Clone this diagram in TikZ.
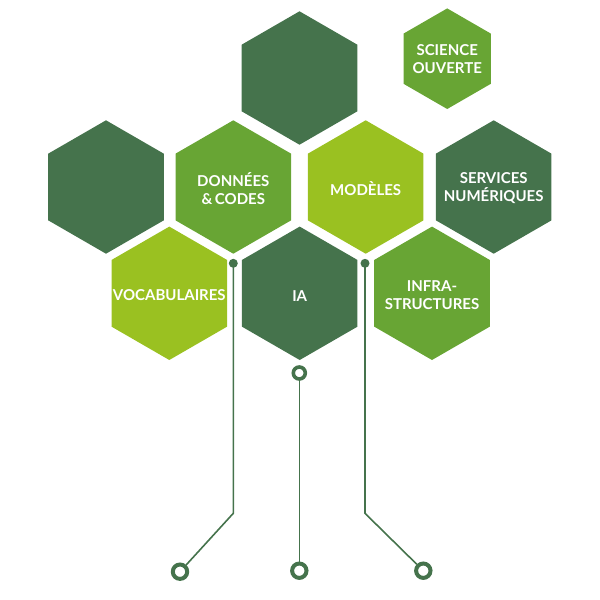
\documentclass[tikz,border=0pt]{standalone}
\usepackage{fontspec}
\setmainfont{Lato}
\usetikzlibrary{shapes.geometric}
\definecolor{dk}{RGB}{69,115,76}
\definecolor{md}{RGB}{104,165,52}
\definecolor{lm}{RGB}{154,193,33}
\begin{document}
\begin{tikzpicture}[x=1pt,y=-1pt,
  hex/.style={regular polygon, regular polygon sides=6, shape border rotate=30,
    minimum size=133.4pt, inner sep=0pt, outer sep=0pt, draw=none},
  smallhex/.style={hex, minimum size=100.6pt},
  txt/.style={text=white, align=center, font=\bfseries\fontsize{15}{18}\selectfont, inner sep=0pt},
  conn/.style={draw=dk, line width=1.6pt},
  dotnode/.style={circle, fill=dk, minimum size=9pt, inner sep=0pt, outer sep=0pt},
  ring/.style={circle, draw=dk, line width=4pt, fill=white, minimum size=14.4pt, inner sep=0pt},
  smallring/.style={ring, line width=3.6pt, minimum size=12pt}]
\useasboundingbox (0,0) rectangle (600,600);
% hexagons
\node[hex, fill=dk] (htop) at (299.5,78) {};
\node[smallhex, fill=md] (hsci) at (447.2,58.7) {};
\node[hex, fill=dk] (hleft) at (106,187) {};
\node[hex, fill=md] (hdon) at (233.3,187) {};
\node[hex, fill=lm] (hmod) at (365.7,187) {};
\node[hex, fill=dk] (hser) at (493.7,187) {};
\node[hex, fill=lm] (hvoc) at (169.3,293.3) {};
\node[hex, fill=dk] (hia) at (299.7,293.3) {};
\node[hex, fill=md] (hinf) at (432,293.3) {};
% labels
\node[txt] (tsci) at ([yshift=-0.5pt]hsci.center) {SCIENCE\\OUVERTE};
\node[txt] (tdon) at ([yshift=-1.5pt]hdon.center) {DONNÉES\\\&\,CODES};
\node[txt] (tmod) at ([yshift=-1.5pt]hmod.center) {MODÈLES};
\node[txt] (tser) at ([yshift=-1.5pt]hser.center) {SERVICES\\NUMÉRIQUES};
\node[txt] (tvoc) at ([yshift=-2pt]hvoc.center) {VOCABULAIRES};
\node[txt] (tia) at ([yshift=-2.5pt]hia.center) {IA};
\node[txt] (tinf) at ([yshift=-1.5pt]hinf.center) {INFRA-\\STRUCTURES};
% connectors
\node[ring] (c1) at (180,571.7) {};
\node[ring] (c2) at (299.3,570.7) {};
\node[ring] (c3) at (423.3,570.7) {};
\coordinate (b1) at (233.3,513.3);
\coordinate (b3) at (365,513.3);
\draw[conn] (233.3,263.3) -- (b1) -- (c1);
\draw[conn] (365,263.3) -- (b3) -- (c3);
\node[smallring] (m) at (299.3,373) {};
\draw[conn] (m) -- (c2);
\node[dotnode] (d1) at (233.3,263.3) {};
\node[dotnode] (d3) at (365,263.3) {};
\end{tikzpicture}
\end{document}
